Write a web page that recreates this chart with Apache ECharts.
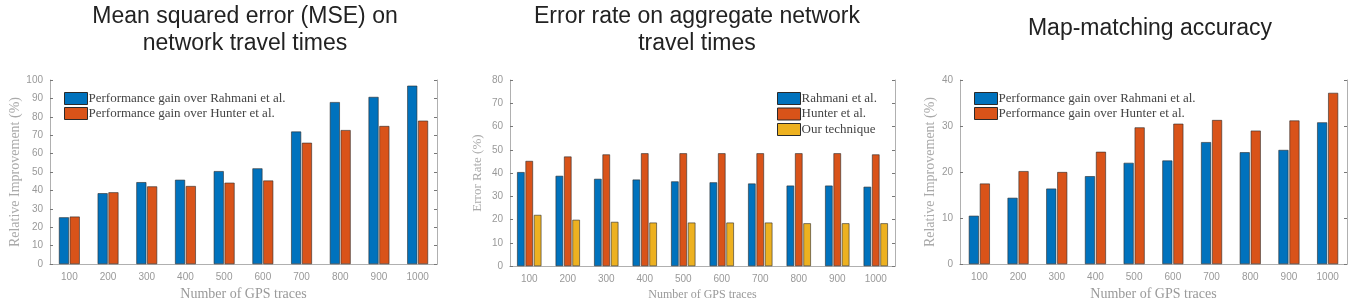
<!DOCTYPE html>
<html>
<head>
<meta charset="utf-8">
<script src="https://cdn.jsdelivr.net/npm/echarts@6/dist/echarts.min.js"></script>
<style>
  html, body { margin: 0; padding: 0; background: #fff; }
  #chart { width: 1359px; height: 306px; }
</style>
</head>
<body>
<div id="chart"></div>
<script>
// x categories (number of GPS traces)
const categories = ['100', '200', '300', '400', '500', '600', '700', '800', '900', '1000'];

// panel 1: MSE on network travel times
const mseRahmani = [25.4, 38.5, 44.5, 45.8, 50.5, 52, 72, 88, 90.8, 96.9];
const mseHunter  = [25.8, 39, 42.2, 42.4, 44.2, 45.4, 65.9, 72.8, 75, 77.9];

// panel 2: error rate on aggregate network travel times
const errRahmani = [40.4, 38.8, 37.5, 37.2, 36.4, 36, 35.5, 34.6, 34.6, 34.1];
const errHunter  = [45.2, 47.1, 48, 48.5, 48.5, 48.5, 48.5, 48.5, 48.5, 48];
const errOurs    = [22, 19.9, 19, 18.7, 18.7, 18.7, 18.7, 18.4, 18.4, 18.4];

// panel 3: map-matching accuracy
const mapRahmani = [10.5, 14.4, 16.4, 19.1, 22, 22.5, 26.5, 24.3, 24.8, 30.8];
const mapHunter  = [17.5, 20.2, 20, 24.4, 29.7, 30.5, 31.3, 29, 31.2, 37.2];

const blue = '#0072BD';
const orange = '#D95319';
const yellow = '#EDB120';
const axisGray = '#b0b0b0';
const labelGray = '#999999';
const serif = '"Liberation Serif", "DejaVu Serif", serif';
const sans = '"Liberation Sans", Arial, sans-serif';

const nameRahmaniGain = 'Performance gain over Rahmani et al.';
const nameHunterGain = 'Performance gain over Hunter et al.';

const grids = [
   { left: 50, top: 80, width: 387, height: 192 },
   { left: 510, top: 80, width: 385, height: 194 },
   { left: 960, top: 80, width: 387, height: 192 }
];

const yMax = [100, 80, 40];
const yNames = ['Relative Improvement (%)', 'Error Rate (%)', 'Relative Improvement (%)'];
const yNameGap = [27, 26, 23];
const yNameSize = [14, 13, 14];
const xNameSize = [14, 12, 14];

const xAxes = [];
const yAxes = [];
for (let i = 0; i < 3; i++)
{
   xAxes.push({
      type: 'category', gridIndex: i, data: categories, position: 'bottom',
      axisLine: { lineStyle: { color: axisGray } },
      axisTick: { inside: true, alignWithLabel: true, length: 3, lineStyle: { color: '#777' } },
      axisLabel: { color: labelGray, fontFamily: sans, fontSize: 10, margin: 8 },
      name: 'Number of GPS traces', nameLocation: 'middle', nameGap: 21,
      nameTextStyle: { color: labelGray, fontFamily: serif, fontSize: xNameSize[i] }
   });
   yAxes.push({
      type: 'value', gridIndex: i, min: 0, max: yMax[i], interval: 10, position: 'left',
      axisLine: { show: true, lineStyle: { color: axisGray } },
      axisTick: { show: true, inside: true, length: 3, lineStyle: { color: '#777' } },
      axisLabel: { color: labelGray, fontFamily: sans, fontSize: 10, margin: 7 },
      splitLine: { show: false },
      name: yNames[i], nameLocation: 'middle', nameGap: yNameGap[i],
      nameTextStyle: { color: '#aaaaaa', fontFamily: serif, fontSize: yNameSize[i] }
   });
}
// mirrored box with ticks on top and right
for (let i = 0; i < 3; i++)
{
   xAxes.push({
      type: 'category', gridIndex: i, data: categories, position: 'top',
      axisLine: { lineStyle: { color: axisGray } },
      axisTick: { inside: true, alignWithLabel: true, length: 3, lineStyle: { color: '#777' } },
      axisLabel: { show: false }
   });
   yAxes.push({
      type: 'value', gridIndex: i, min: 0, max: yMax[i], interval: 10, position: 'right',
      axisLine: { show: true, lineStyle: { color: axisGray } },
      axisTick: { show: true, inside: true, length: 3, lineStyle: { color: '#777' } },
      axisLabel: { show: false },
      splitLine: { show: false }
   });
}

function bar(name, data, color, idx, width, gap)
{
   return {
      type: 'bar', name: name, data: data, xAxisIndex: idx, yAxisIndex: idx,
      barWidth: width, barGap: gap,
      itemStyle: { color: color, borderColor: '#2a2a2a', borderWidth: 0.6 },
      emphasis: { disabled: true }
   };
}

const legendText = { color: '#444', fontFamily: serif, fontSize: 13, lineHeight: 12, padding: [0, 0, 0, -4] };
const legendBase = { orient: 'vertical', icon: 'rect', itemWidth: 23, itemHeight: 12, itemGap: 2, padding: 0,
   textStyle: legendText, itemStyle: { borderColor: '#2a2a2a', borderWidth: 1 } };

const option =
{
   animation: false,
   backgroundColor: '#fff',
   grid: grids,
   xAxis: xAxes,
   yAxis: yAxes,
   legend: [
      Object.assign({}, legendBase, { left: 64, top: 92, data: [nameRahmaniGain, nameHunterGain] }),
      Object.assign({}, legendBase, { left: 777, top: 92, itemGap: 2.5, data: ['Rahmani et al.', 'Hunter et al.', 'Our technique'] }),
      Object.assign({}, legendBase, { left: 974, top: 92, data: [nameRahmaniGain, nameHunterGain] })
   ],
   graphic: [
      { type: 'text', x: 245, y: 30, style: { text: 'Mean squared error (MSE) on\nnetwork travel times',
        fill: '#222', font: '23px "Liberation Sans", Arial, sans-serif', lineHeight: 27, align: 'center', verticalAlign: 'middle' } },
      { type: 'text', x: 697, y: 30, style: { text: 'Error rate on aggregate network\ntravel times',
        fill: '#222', font: '23px "Liberation Sans", Arial, sans-serif', lineHeight: 27, align: 'center', verticalAlign: 'middle' } },
      { type: 'text', x: 1150, y: 29, style: { text: 'Map-matching accuracy',
        fill: '#222', font: '23px "Liberation Sans", Arial, sans-serif', lineHeight: 27, align: 'center', verticalAlign: 'middle' } }
   ],
   series: [
      bar(nameRahmaniGain, mseRahmani, blue, 0, 10, '8%'),
      bar(nameHunterGain, mseHunter, orange, 0, 10, '8%'),
      bar('Rahmani et al.', errRahmani, blue, 1, 7.5, '12%'),
      bar('Hunter et al.', errHunter, orange, 1, 7.5, '12%'),
      bar('Our technique', errOurs, yellow, 1, 7.5, '12%'),
      bar(nameRahmaniGain, mapRahmani, blue, 2, 10, '10%'),
      bar(nameHunterGain, mapHunter, orange, 2, 10, '10%')
   ]
};

const chart = echarts.init(document.getElementById('chart'));
chart.setOption(option);
</script>
</body>
</html>
